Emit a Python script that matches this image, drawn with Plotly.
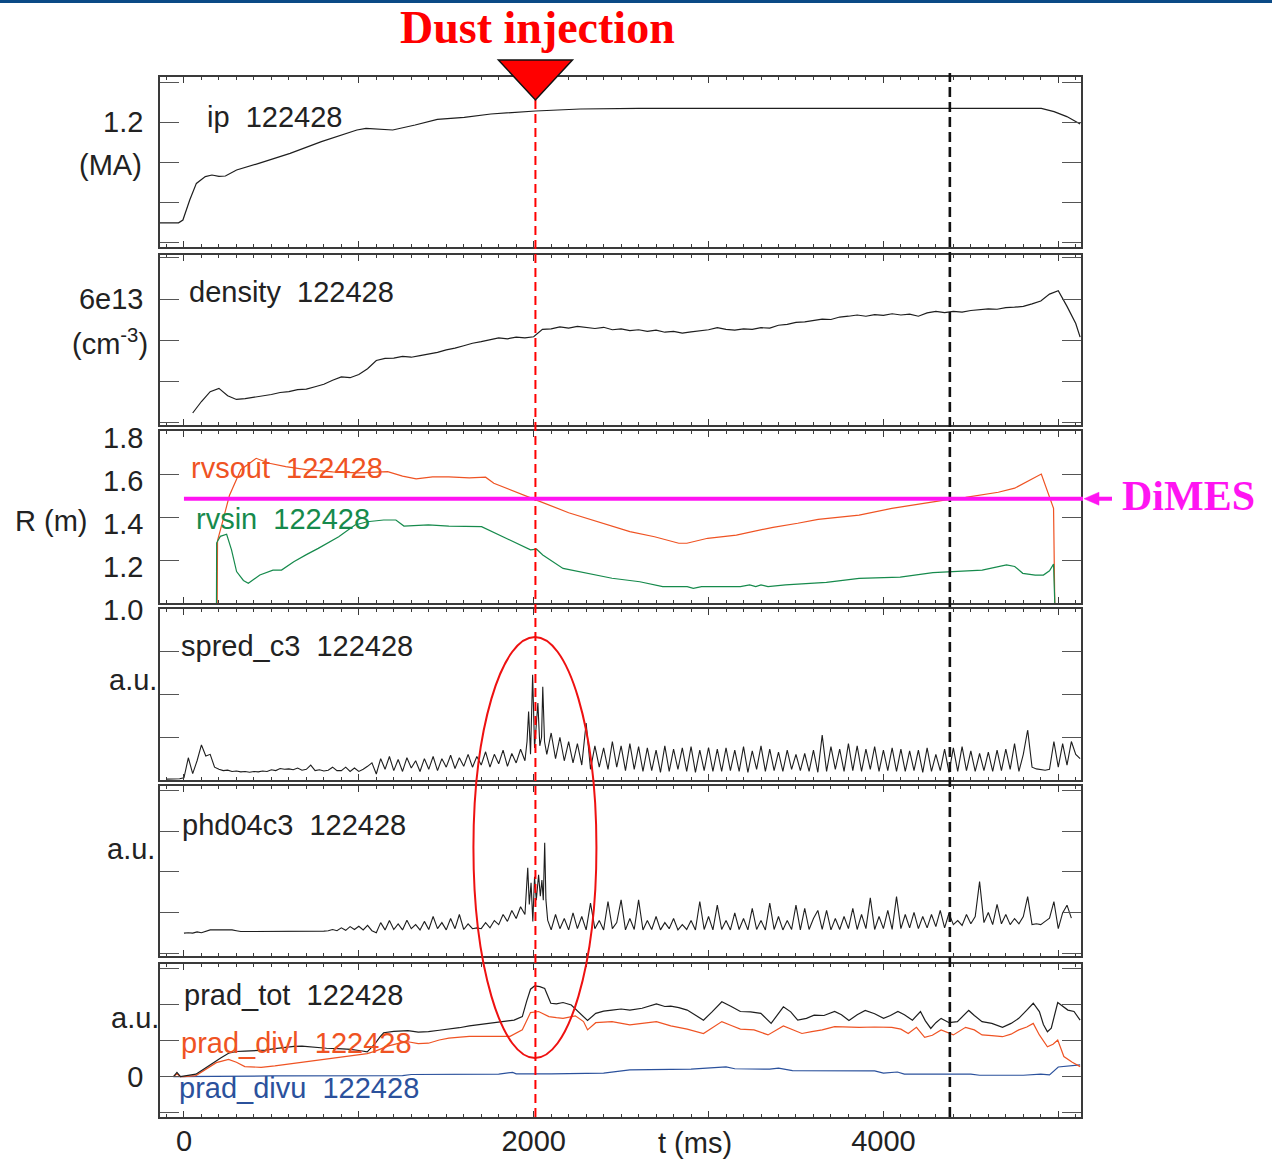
import plotly.graph_objects as go

# ---------------- data ----------------
SHOT = "122428"
T_DUST = 2010        # dust injection time (ms)
T_MARK = 4380        # second (black dashed) marker time (ms)
DIMES_R = 1.485      # DiMES radius (m)

IP_T = [-137, -31, -6, 33, 71, 100, 122, 160, 200, 237, 301, 428, 607, 786, 989, 1041, 1120,
        1194, 1322, 1449, 1603, 1755, 2011, 2266, 2600, 3000, 3500, 4000, 4500, 4903, 4976, 5049, 5125]
IP_V = [0.696, 0.696, 0.71, 0.81, 0.893, 0.91, 0.927, 0.935, 0.928, 0.93, 0.96, 0.993, 1.043, 1.102,
        1.16, 1.168, 1.163, 1.16, 1.185, 1.213, 1.223, 1.24, 1.255, 1.265, 1.268, 1.268, 1.267, 1.268,
        1.268, 1.268, 1.252, 1.227, 1.19]

DENS_T = list(range(50, 5101, 50)) + [5125]
DENS_V = [3.22, 3.50, 3.74, 3.82, 3.64, 3.55, 3.57, 3.60, 3.63, 3.67,
          3.72, 3.74, 3.79, 3.80, 3.86, 3.92, 4.02, 4.10, 4.08, 4.16,
          4.30, 4.50, 4.55, 4.56, 4.60, 4.58, 4.62, 4.66, 4.70, 4.76,
          4.80, 4.86, 4.92, 4.96, 5.00, 5.05, 5.03, 5.07, 5.05, 5.08,
          5.26, 5.27, 5.32, 5.29, 5.33, 5.30, 5.28, 5.31, 5.25, 5.27,
          5.23, 5.25, 5.21, 5.24, 5.19, 5.21, 5.17, 5.20, 5.22, 5.25,
          5.30, 5.26, 5.24, 5.27, 5.26, 5.30, 5.29, 5.36, 5.38, 5.43,
          5.44, 5.47, 5.51, 5.50, 5.56, 5.58, 5.61, 5.58, 5.62, 5.60,
          5.64, 5.61, 5.63, 5.58, 5.66, 5.70, 5.67, 5.70, 5.68, 5.72,
          5.74, 5.76, 5.75, 5.79, 5.80, 5.82, 5.88, 5.95, 6.12, 6.20,
          5.82, 5.40, 5.07]

RVSOUT_T = [190, 192, 215, 260, 325, 413, 488, 582, 700, 850, 1000, 1165, 1250, 1328, 1422, 1515,
            1632, 1725, 1772, 1888, 2005, 2200, 2400, 2550, 2691, 2830, 2876, 2995, 3159, 3229,
            3369, 3510, 3627, 3861, 4048, 4376, 4470, 4657, 4751, 4903, 4973, 4980]
RVSOUT_V = [1.0, 1.29, 1.36, 1.50, 1.62, 1.673, 1.65, 1.634, 1.62, 1.61, 1.605, 1.611, 1.59, 1.577,
            1.587, 1.587, 1.582, 1.585, 1.557, 1.518, 1.482, 1.42, 1.37, 1.332, 1.308, 1.278, 1.278,
            1.301, 1.316, 1.329, 1.352, 1.371, 1.389, 1.409, 1.440, 1.482, 1.491, 1.515, 1.534,
            1.600, 1.440, 1.0]

RVSIN_T = [186, 187, 208, 244, 272, 301, 340, 368, 434, 509, 558, 628, 700, 768, 885, 978, 1048,
           1142, 1212, 1258, 1398, 1515, 1702, 1841, 1982, 2017, 2052, 2168, 2262, 2448, 2607, 2738,
           2878, 2913, 2960, 3182, 3235, 3270, 3300, 3340, 3440, 3674, 3861, 4096, 4283, 4565, 4704,
           4751, 4797, 4868, 4915, 4950, 4973, 4980]
RVSIN_V = [1.0, 1.28, 1.31, 1.32, 1.247, 1.146, 1.105, 1.092, 1.13, 1.153, 1.153, 1.192, 1.225,
           1.254, 1.308, 1.363, 1.378, 1.386, 1.386, 1.358, 1.363, 1.358, 1.355, 1.301, 1.247, 1.250,
           1.223, 1.161, 1.146, 1.115, 1.099, 1.076, 1.076, 1.068, 1.076, 1.076, 1.084, 1.076, 1.084,
           1.076, 1.084, 1.096, 1.115, 1.120, 1.141, 1.153, 1.177, 1.17, 1.138, 1.130, 1.130, 1.150,
           1.181, 1.0]

# spred_c3 (a.u.): 25 ms samples before the burst, the burst, 25 ms samples after it
SPRED_PRE_T0, SPRED_STEP = -100, 25
SPRED_PRE = [0.02, 0.02, 0.02, 0.03, 0.05, 0.52, 0.15, 0.45, 0.82, 0.56, 0.60, 0.30, 0.25, 0.22, 0.23, 0.20, 0.21, 0.19, 0.20, 0.18,
             0.20, 0.19, 0.21, 0.20, 0.24, 0.22, 0.27, 0.25, 0.26, 0.24, 0.28, 0.23, 0.25, 0.35, 0.22, 0.24, 0.21, 0.23, 0.30, 0.22,
             0.22, 0.30, 0.20, 0.28, 0.20, 0.25, 0.32, 0.40, 0.14, 0.50, 0.25, 0.55, 0.22, 0.48, 0.20, 0.52, 0.28, 0.45, 0.20, 0.50,
             0.25, 0.55, 0.22, 0.50, 0.30, 0.58, 0.27, 0.52, 0.32, 0.60, 0.30, 0.55, 0.35, 0.66, 0.30, 0.60, 0.38, 0.70, 0.32, 0.62,
             0.40, 0.72]
SPRED_BURST_T = [1950, 1962, 1971, 1982, 1994, 2005, 2015, 2024, 2035, 2045, 2052, 2062, 2075]
SPRED_BURST_V = [0.45, 0.90, 1.60, 0.60, 2.46, 0.75, 1.30, 1.80, 0.80, 1.00, 2.18, 0.90, 0.60]
SPRED_POST_T0 = 2100
SPRED_POST = [1.10, 0.50, 1.00, 0.45, 0.90, 0.40, 0.85, 0.35, 1.33, 0.25, 0.80, 0.30, 0.75, 0.25, 0.90, 0.30, 0.80, 0.22, 0.85, 0.25,
              0.78, 0.20, 0.75, 0.22, 0.70, 0.18, 0.80, 0.20, 0.72, 0.25, 0.75, 0.20, 0.78, 0.18, 0.70, 0.22, 0.76, 0.20, 0.72, 0.20,
              0.75, 0.22, 0.70, 0.20, 0.78, 0.18, 0.68, 0.25, 0.80, 0.20, 0.72, 0.22, 0.65, 0.20, 0.70, 0.25, 0.60, 0.22, 0.62, 0.20,
              0.70, 0.18, 1.05, 0.20, 0.78, 0.25, 0.72, 0.20, 0.85, 0.22, 0.80, 0.20, 0.72, 0.25, 0.78, 0.20, 0.70, 0.22, 0.75, 0.20,
              0.72, 0.20, 0.68, 0.22, 0.70, 0.18, 0.75, 0.20, 0.60, 0.22, 0.72, 0.18, 0.75, 0.20, 0.78, 0.22, 0.68, 0.20, 0.62, 0.22,
              0.65, 0.20, 0.70, 0.22, 0.72, 0.25, 0.85, 0.20, 0.60, 1.17, 0.30, 0.26, 0.24, 0.23, 0.25, 0.90, 0.30, 0.85, 0.35, 0.90,
              0.60, 0.50]

# phd04c3 (a.u.)
PHD_PRE_T0 = 0
PHD_PRE = [0.49, 0.50, 0.49, 0.52, 0.50, 0.53, 0.57, 0.57, 0.57, 0.57, 0.57, 0.57, 0.55, 0.53, 0.53, 0.53, 0.53, 0.53, 0.53, 0.53,
           0.53, 0.53, 0.53, 0.53, 0.53, 0.53, 0.53, 0.53, 0.53, 0.53, 0.53, 0.53, 0.54, 0.55, 0.58, 0.55, 0.62, 0.56, 0.65, 0.58,
           0.66, 0.57, 0.68, 0.55, 0.50, 0.75, 0.57, 0.80, 0.58, 0.72, 0.57, 0.81, 0.60, 0.70, 0.57, 0.78, 0.58, 0.90, 0.60, 0.75,
           0.57, 0.85, 0.60, 0.95, 0.58, 0.72, 0.60, 0.62, 0.60, 0.75, 0.62, 0.80, 0.70, 0.95, 0.78, 1.05,
           0.85, 1.14]
PHD_BURST_T = [1950, 1966, 1975, 1985, 1995, 2005, 2015, 2028, 2038, 2047, 2055, 2063, 2070, 2080]
PHD_BURST_V = [0.95, 2.10, 1.20, 1.73, 0.78, 1.88, 1.30, 1.93, 1.40, 1.80, 1.30, 2.72, 1.31, 0.81]
PHD_POST_T0 = 2100
PHD_POST = [0.57, 0.95, 0.60, 0.85, 0.57, 0.99, 0.60, 0.90, 0.57, 1.23, 0.60, 0.80, 0.57, 1.27, 0.60, 0.75, 1.31, 0.57, 0.85, 0.58,
            1.31, 0.57, 0.80, 0.58, 0.90, 0.57, 0.75, 0.60, 0.85, 0.57, 0.70, 0.58, 0.80, 0.57, 1.27, 0.58, 0.90, 0.57, 1.18, 0.58,
            0.80, 0.57, 0.99, 0.58, 0.85, 0.57, 1.10, 0.58, 0.80, 0.57, 1.23, 0.58, 0.90, 0.57, 0.80, 0.58, 1.18, 0.57, 1.10, 0.58,
            0.85, 1.05, 0.58, 1.05, 0.57, 0.85, 0.58, 0.90, 0.60, 1.10, 0.58, 0.95, 0.60, 1.36, 0.58, 0.90, 0.60, 1.05, 0.58, 1.39,
            0.60, 0.95, 0.62, 1.00, 0.60, 0.90, 0.62, 0.95, 0.65, 1.05, 0.62, 0.98, 0.70, 0.80, 0.68, 0.95, 0.72, 0.90, 1.76, 0.75,
            1.00, 0.70, 1.20, 0.72, 0.95, 0.70, 0.85, 0.72, 0.90, 1.39, 0.70, 0.72, 0.70, 0.78, 0.86, 1.27, 0.60, 0.99, 1.18, 0.86]

PRAD_TOT_T = [-60, -40, -20, 0, 68, 110, 161, 210, 255, 300, 348, 400, 465, 520, 582, 630, 675, 740, 815,
              880, 955, 1010, 1048, 1070, 1095, 1120, 1142, 1200, 1281, 1340, 1398, 1460, 1515, 1575,
              1632, 1690, 1748, 1820, 1888, 1935, 1960, 1982, 2005, 2035, 2063, 2080, 2098, 2130, 2168,
              2215, 2262, 2308, 2355, 2400, 2448, 2500, 2550, 2620, 2702, 2750, 2784, 2830, 2878, 2930,
              2971, 3020, 3076, 3130, 3182, 3240, 3299, 3358, 3428, 3470, 3510, 3560, 3604, 3660, 3721,
              3760, 3803, 3850, 3896, 3950, 4001, 4040, 4083, 4120, 4166, 4212, 4240, 4271, 4300, 4330,
              4376, 4423, 4488, 4520, 4564, 4620, 4681, 4730, 4774, 4820, 4857, 4892, 4915, 4938, 4960,
              4997, 5030, 5055, 5090, 5125]
PRAD_TOT_V = [0.0, 0.12, 0.0, 0.02, 0.07, 0.20, 0.37, 0.52, 0.65, 0.70, 0.71, 0.72, 0.74, 0.78, 0.82,
              0.84, 0.85, 0.82, 0.79, 0.78, 0.76, 0.72, 0.69, 0.80, 0.93, 1.10, 1.22, 1.26, 1.28, 1.24,
              1.25, 1.29, 1.32, 1.36, 1.41, 1.45, 1.50, 1.53, 1.57, 1.67, 2.10, 2.43, 2.52, 2.50, 2.45,
              2.25, 2.04, 2.02, 2.06, 1.99, 1.76, 1.56, 1.76, 1.82, 1.85, 1.88, 1.85, 1.90, 2.02, 1.95,
              1.96, 1.92, 1.85, 1.70, 1.57, 1.80, 2.08, 1.95, 1.81, 1.80, 1.76, 1.48, 1.94, 1.80, 1.57,
              1.62, 1.71, 1.70, 1.81, 1.72, 1.56, 1.72, 1.84, 1.75, 1.62, 1.70, 1.81, 1.72, 1.57, 1.81,
              1.55, 1.34, 1.50, 1.62, 1.50, 1.53, 1.84, 1.70, 1.53, 1.48, 1.37, 1.48, 1.62, 1.85, 2.04,
              1.81, 1.45, 1.25, 1.35, 2.06, 1.95, 1.85, 1.81, 1.57]

PRAD_DIVL_T = [-60, -40, -20, 0, 68, 104, 150, 185, 255, 300, 348, 441, 520, 582, 650, 722, 800, 862, 930,
               1002, 1048, 1095, 1165, 1220, 1281, 1340, 1398, 1460, 1515, 1580, 1632, 1750, 1865, 1935,
               1960, 1982, 2028, 2087, 2130, 2168, 2238, 2285, 2308, 2355, 2448, 2550, 2620, 2702, 2784,
               2878, 2971, 3020, 3076, 3130, 3182, 3260, 3340, 3428, 3480, 3534, 3590, 3650, 3721, 3800,
               3862, 3950, 4048, 4100, 4142, 4189, 4236, 4280, 4330, 4400, 4470, 4520, 4564, 4620, 4681,
               4730, 4774, 4820, 4857, 4892, 4938, 4970, 4997, 5032, 5080, 5125]
PRAD_DIVL_V = [0.0, 0.08, 0.0, 0.0, 0.03, 0.14, 0.28, 0.39, 0.48, 0.40, 0.28, 0.26, 0.30, 0.34, 0.38,
               0.42, 0.47, 0.51, 0.55, 0.60, 0.64, 0.71, 0.85, 0.92, 0.97, 0.92, 0.93, 1.02, 1.07, 1.10,
               1.12, 1.12, 1.12, 1.30, 1.55, 1.78, 1.81, 1.67, 1.64, 1.62, 1.69, 1.53, 1.30, 1.50, 1.53,
               1.44, 1.48, 1.53, 1.41, 1.32, 1.20, 1.35, 1.53, 1.42, 1.32, 1.30, 1.16, 1.41, 1.30, 1.20,
               1.25, 1.30, 1.39, 1.37, 1.37, 1.38, 1.37, 1.32, 1.20, 1.37, 1.09, 1.15, 1.30, 1.16, 1.37,
               1.30, 1.16, 1.14, 1.11, 1.18, 1.30, 1.38, 1.48, 1.16, 0.83, 0.90, 1.02, 0.56, 0.40, 0.28]

PRAD_DIVU_T = [-60, 0, 500, 1250, 1300, 1800, 1880, 1900, 1950, 2000, 2100, 2400, 2550, 2900, 3050,
               3100, 3150, 3350, 3400, 3480, 3950, 4000, 4080, 4120, 4500, 4550, 4800, 4900, 4950,
               5000, 5125]
PRAD_DIVU_V = [0.0, 0.0, 0.02, 0.03, 0.06, 0.07, 0.12, 0.08, 0.08, 0.07, 0.08, 0.10, 0.19, 0.21, 0.24,
               0.27, 0.22, 0.21, 0.24, 0.17, 0.16, 0.10, 0.13, 0.07, 0.07, 0.04, 0.04, 0.07, 0.05,
               0.27, 0.33]

# axis ticks / labels
X_RANGE = [-137, 5130]
X_TICKS = [0, 1000, 2000, 3000, 4000, 5000]
X_TICKTEXT = ["0", " ", "2000", " ", "4000", " "]
Y_RANGES = [[0.575, 1.425], [2.927, 7.073], [1.0, 1.8], [0.0, 4.0], [-0.074, 4.12], [-1.12, 3.13]]
Y_TICKVALS = [[0.6, 0.8, 1.0, 1.2, 1.4], [3, 4, 5, 6, 7], [1.0, 1.2, 1.4, 1.6, 1.8],
              [1, 2, 3], [0, 1, 2, 3, 4], [-1, 0, 1, 2, 3]]
Y_TICKTEXT = [[" ", " ", " ", "1.2", " "], [" ", " ", " ", "6e13", " "], ["1.0", "1.2", "1.4", "1.6", "1.8"],
              [" ", " ", " "], [" ", " ", " ", " ", " "], [" ", "0", " ", " ", " "]]

# ---------------- layout helpers (pixel geometry) ----------------
W, H = 1272, 1159
PL, PR = 160, 1081
PANELS_PX = [(77, 247), (255, 425), (431, 603), (609, 780), (786, 956), (964, 1117)]


def xp(px):
    return (px - PL) / (PR - PL)


def yp(py):
    return 1 - py / H


def xdata_to_paper(t):
    return (t - X_RANGE[0]) / (X_RANGE[1] - X_RANGE[0])


def ydata_to_paper(v, i):
    top, bot = PANELS_PX[i]
    r0, r1 = Y_RANGES[i]
    return yp(bot) + (v - r0) / (r1 - r0) * (yp(top) - yp(bot))


BLACK = "#1e1e1e"
ORANGE = "#ef5323"
GREEN = "#168a4c"
BLUE = "#2b519c"
MAGENTA = "#ff14f2"
RED = "#ff0000"
FRAME = "#3a3a3a"
FONT = "Liberation Sans, Arial, sans-serif"
SERIF = "Liberation Serif, Times New Roman, serif"

fig = go.Figure()


def add_line(x, y, i, color, width=1.2):
    sx = "x" if i == 0 else f"x{i+1}"
    sy = "y" if i == 0 else f"y{i+1}"
    fig.add_trace(go.Scatter(x=x, y=y, xaxis=sx, yaxis=sy, mode="lines",
                             line=dict(color=color, width=width), hoverinfo="skip"))


add_line(IP_T, IP_V, 0, BLACK)
add_line(DENS_T, DENS_V, 1, BLACK)
add_line(RVSOUT_T, RVSOUT_V, 2, ORANGE)
add_line(RVSIN_T, RVSIN_V, 2, GREEN)

spred_t = ([SPRED_PRE_T0 + SPRED_STEP * k for k in range(len(SPRED_PRE))] + SPRED_BURST_T
           + [SPRED_POST_T0 + SPRED_STEP * k for k in range(len(SPRED_POST))])
spred_v = SPRED_PRE + SPRED_BURST_V + SPRED_POST
add_line(spred_t, spred_v, 3, BLACK, 1.1)

phd_t = ([PHD_PRE_T0 + SPRED_STEP * k for k in range(len(PHD_PRE))] + PHD_BURST_T
         + [PHD_POST_T0 + SPRED_STEP * k for k in range(len(PHD_POST))])
phd_v = PHD_PRE + PHD_BURST_V + PHD_POST
add_line(phd_t, phd_v, 4, BLACK, 1.1)

add_line(PRAD_DIVU_T, PRAD_DIVU_V, 5, BLUE)
add_line(PRAD_DIVL_T, PRAD_DIVL_V, 5, ORANGE)
add_line(PRAD_TOT_T, PRAD_TOT_V, 5, BLACK)

layout = dict(width=W, height=H, margin=dict(l=PL, r=W - PR, t=0, b=0, autoexpand=False),
              paper_bgcolor="white", plot_bgcolor="white", showlegend=False,
              font=dict(family=FONT, size=29, color="#222222"))

for i, (top, bot) in enumerate(PANELS_PX):
    xa = "xaxis" if i == 0 else f"xaxis{i+1}"
    ya = "yaxis" if i == 0 else f"yaxis{i+1}"
    last = i == len(PANELS_PX) - 1
    layout[xa] = dict(domain=[0, 1], anchor="y" if i == 0 else f"y{i+1}", range=X_RANGE,
                      showline=True, mirror="ticks", linecolor=FRAME, linewidth=1.6,
                      ticks="inside", ticklen=6, tickwidth=1.2, tickcolor=FRAME,
                      tickvals=X_TICKS, ticktext=X_TICKTEXT, showticklabels=last,
                      tickfont=dict(size=29, color="#222222"), ticklabelstandoff=-3,
                      minor=dict(dtick=100, tick0=0, ticks="inside", ticklen=3, tickcolor=FRAME,
                                 tickwidth=1, showgrid=False),
                      showgrid=False, zeroline=False, fixedrange=True, automargin=False)
    if i > 0:
        layout[xa]["matches"] = "x"
    layout[ya] = dict(domain=[yp(bot), yp(top)], anchor="x" if i == 0 else f"x{i+1}",
                      range=Y_RANGES[i], showline=True, mirror="ticks", linecolor=FRAME,
                      linewidth=1.6, ticks="inside", ticklen=19, tickwidth=1.3, tickcolor="#555555",
                      tickvals=Y_TICKVALS[i], ticktext=Y_TICKTEXT[i],
                      tickfont=dict(size=29, color="#222222"), ticklabelstandoff=9,
                      showgrid=False, zeroline=False, fixedrange=True, automargin=False)

layout["yaxis3"]["ticklabelshift"] = 7

fig.update_layout(**layout)

# ---------------- shapes ----------------
shapes = []
# top blue bar
shapes.append(dict(type="rect", xref="paper", yref="paper", x0=xp(0), x1=xp(W), y0=yp(3), y1=yp(0),
                   fillcolor="#0b4a86", line=dict(width=0), layer="above"))
# dust injection dashed line
shapes.append(dict(type="line", xref="x", yref="paper", x0=T_DUST, x1=T_DUST, y0=yp(1117), y1=yp(100),
                   line=dict(color=RED, width=2, dash="9px,5px"), layer="above"))
# second marker dashed line
shapes.append(dict(type="line", xref="x", yref="paper", x0=T_MARK, x1=T_MARK, y0=yp(1117), y1=yp(73),
                   line=dict(color="#111111", width=2.6, dash="10px,5px"), layer="above"))
# triangle marker
ms_per_px = (X_RANGE[1] - X_RANGE[0]) / (PR - PL)
tri_half = 37 * ms_per_px
shapes.append(dict(type="path", xref="x", yref="paper",
                   path=f"M {T_DUST - tri_half},{yp(60)} L {T_DUST + tri_half},{yp(60)} L {T_DUST},{yp(100)} Z",
                   fillcolor=RED, line=dict(color="#111111", width=1.5), layer="above"))
# ellipse around the burst
shapes.append(dict(type="circle", xref="x", yref="paper",
                   x0=T_DUST - 62 * ms_per_px, x1=T_DUST + 61 * ms_per_px, y0=yp(1058), y1=yp(637),
                   line=dict(color="#ee1111", width=2), layer="above"))
# DiMES line
y_dimes = ydata_to_paper(DIMES_R, 2)
shapes.append(dict(type="line", xref="paper", yref="paper", x0=xdata_to_paper(0), x1=xp(1083),
                   y0=y_dimes, y1=y_dimes, line=dict(color=MAGENTA, width=4), layer="above"))
# arrow to DiMES label
y_dimes_px = (1 - y_dimes) * H
shapes.append(dict(type="line", xref="paper", yref="paper", x0=xp(1095), x1=xp(1112),
                   y0=y_dimes, y1=y_dimes, line=dict(color=MAGENTA, width=4)))
shapes.append(dict(type="path", xref="paper", yref="paper",
                   path=f"M {xp(1084)},{y_dimes} L {xp(1099)},{yp(y_dimes_px - 6.5)} L {xp(1099)},{yp(y_dimes_px + 6.5)} Z",
                   fillcolor=MAGENTA, line=dict(color=MAGENTA, width=0.5)))
fig.update_layout(shapes=shapes)

# ---------------- annotations ----------------
SP = "\u00a0\u00a0"
ann = []


def txt(text, x, y, color="#222222", size=29, xanchor="left", family=FONT):
    ann.append(dict(text=text, x=xp(x), y=yp(y), xref="paper", yref="paper", showarrow=False,
                    xanchor=xanchor, yanchor="middle", font=dict(size=size, color=color, family=family)))


txt("<b>Dust injection</b>", 537, 27, RED, 46, "center", SERIF)
txt("ip" + SP + SHOT, 205, 117)
txt("(MA)", 110, 165, xanchor="center")
txt("density" + SP + SHOT, 187, 292)
txt("(cm<sup>-3</sup>)", 110, 342, xanchor="center")
txt("rvsout" + SP + SHOT, 189, 468, ORANGE)
txt("rvsin" + SP + SHOT, 194, 519, GREEN)
txt("R (m)", 51, 521, xanchor="center")
txt("spred_c3" + SP + SHOT, 179, 646)
txt("a.u.", 159, 680, xanchor="right")
txt("phd04c3" + SP + SHOT, 180, 825)
txt("a.u.", 157, 849, xanchor="right")
txt("prad_tot" + SP + SHOT, 182, 995)
txt("a.u.", 161, 1018, xanchor="right")
txt("prad_divl" + SP + SHOT, 179, 1043, ORANGE)
txt("prad_divu" + SP + SHOT, 177, 1088, BLUE)
txt("t (ms)", 695, 1143, xanchor="center")
txt("<b>DiMES</b>", 1120, 496, MAGENTA, 42, "left", SERIF)
fig.update_layout(annotations=ann)

fig.write_html("out.html")
